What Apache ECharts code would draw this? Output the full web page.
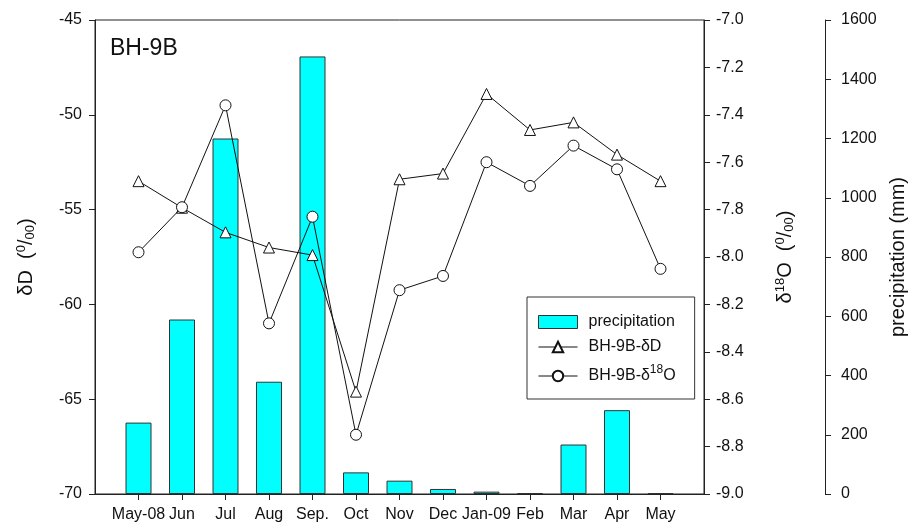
<!DOCTYPE html>
<html>
<head>
<meta charset="utf-8">
<script src="https://cdn.jsdelivr.net/npm/echarts@6/dist/echarts.min.js"></script>
<style>
html,body{margin:0;padding:0;background:#fff;}
#chart{width:917px;height:528px;}
</style>
</head>
<body>
<div id="chart"></div>
<script>
// ---- data ----
var months = ['May-08','Jun','Jul','Aug','Sep.','Oct','Nov','Dec','Jan-09','Feb','Mar','Apr','May'];
var precipitation = [241, 589, 1200, 379, 1477, 73, 45, 17, 8, 3, 167, 283, 3];
var deltaD = [-53.5, -54.9, -56.2, -57.0, -57.4, -64.6, -53.4, -53.1, -48.9, -50.8, -50.4, -52.1, -53.5];
var delta18O = [-7.98, -7.79, -7.36, -8.28, -7.83, -8.75, -8.14, -8.08, -7.60, -7.70, -7.53, -7.63, -8.05];
var dDTicks = {min: -70, max: -45, interval: 5};
var d18OTicks = {min: -9, max: -7, interval: 0.2};
var precipTicks = {min: 0, max: 1600, interval: 200};

// padded categories so points sit at 1..13 on a 0..14 span
var cats = [''].concat(months).concat(['']);
function pad(a){ return [null].concat(a).concat([null]); }

var FONT = "'Liberation Sans', Arial, sans-serif";
var AX = '#222';
var richName = {
  t: {fontSize: 20, fontFamily: FONT, color: '#111', lineHeight: 22, verticalAlign: 'middle'},
  sup: {fontSize: 13, fontFamily: FONT, color: '#111', lineHeight: 13, verticalAlign: 'top'},
  sub: {fontSize: 13, fontFamily: FONT, color: '#111', lineHeight: 13, verticalAlign: 'bottom'}
};
function axisCommon(){
  return {
    axisLine: {show: true, lineStyle: {color: AX, width: 1}},
    axisTick: {show: true, inside: false, length: 6, lineStyle: {color: AX, width: 1}},
    splitLine: {show: false},
    axisLabel: {color: '#111', fontSize: 16, fontFamily: FONT}
  };
}

var chart = echarts.init(document.getElementById('chart'), null, {renderer: 'canvas'});
var yLeft = axisCommon();
Object.assign(yLeft, {
  type: 'value', position: 'left', min: dDTicks.min, max: dDTicks.max, interval: dDTicks.interval,
  name: '{t|δD  (}{sup|0}{t|/}{sub|00}{t|)}', nameLocation: 'middle', nameGap: 58, nameRotate: 90,
  nameTextStyle: {rich: richName}
});
yLeft.axisLabel.margin = 13;

var yRight = axisCommon();
Object.assign(yRight, {
  type: 'value', position: 'right', min: d18OTicks.min, max: d18OTicks.max, interval: d18OTicks.interval,
  name: '{t|δ}{sup|18}{t|O  (}{sup|0}{t|/}{sub|00}{t|)}', nameLocation: 'middle', nameGap: 70, nameRotate: 90,
  nameTextStyle: {rich: richName}
});
yRight.axisLabel.margin = 12;
yRight.axisLabel.formatter = function(v){ return v.toFixed(1); };

var yPrecip = axisCommon();
Object.assign(yPrecip, {
  type: 'value', position: 'right', offset: 121, min: precipTicks.min, max: precipTicks.max, interval: precipTicks.interval,
  name: 'precipitation (mm)', nameLocation: 'middle', nameGap: 63, nameRotate: 90,
  nameTextStyle: {fontSize: 20, fontFamily: FONT, color: '#111'}
});
yPrecip.axisLabel.margin = 16;
yPrecip.axisLabel.formatter = function(v){ return String(v); };

var xAx = axisCommon();
Object.assign(xAx, {
  type: 'category', data: cats, boundaryGap: false
});
xAx.axisTick.interval = function(i, v){ return v !== ''; };
xAx.axisLabel.interval = 0;
xAx.axisLabel.margin = 13;

var option = {
  animation: false,
  backgroundColor: '#fff',
  textStyle: {fontFamily: FONT},
  grid: {left: 95, right: 213, top: 20, bottom: 34, show: true, borderColor: AX, borderWidth: 1, backgroundColor: 'transparent'},
  graphic: [{
    type: 'text', left: 110, top: 37,
    style: {text: 'BH-9B', fontSize: 23, fontFamily: FONT, fill: '#111'}
  }],
  legend: {
    show: true, orient: 'vertical', left: 527, top: 297,
    padding: [17, 19, 15, 11], itemGap: 9, itemWidth: 39, itemHeight: 13,
    borderColor: '#333', borderWidth: 1, backgroundColor: '#fff',
    lineStyle: {width: 1},
    data: [
      {name: 'precipitation', icon: 'rect', itemStyle: {borderWidth: 1, borderColor: '#333'}},
      {name: 'BH-9B-δD', lineStyle: {width: 1}},
      {name: 'BH-9B-δ18O', lineStyle: {width: 1}}
    ],
    formatter: function(n){
      if (n === 'BH-9B-δ18O') return '{t|BH-9B-δ}{sup|18}{t|O}';
      return '{t|' + n + '}';
    },
    textStyle: {
      fontFamily: FONT, fontSize: 16, color: '#111', padding: [0, 0, 0, 6],
      rich: {
        t: {fontSize: 16, fontFamily: FONT, color: '#111', lineHeight: 24, verticalAlign: 'middle'},
        sup: {fontSize: 12, fontFamily: FONT, color: '#111', lineHeight: 12, verticalAlign: 'top'}
      }
    }
  },
  xAxis: [xAx],
  yAxis: [yLeft, yRight, yPrecip],
  series: [
    {
      name: 'precipitation', type: 'bar', yAxisIndex: 2, data: pad(precipitation), barWidth: 26,
      itemStyle: {color: '#00FFFF', borderColor: '#333', borderWidth: 1}, z: 1
    },
    {
      name: 'BH-9B-δD', type: 'line', yAxisIndex: 0, data: pad(deltaD),
      symbol: 'triangle', symbolSize: 11, showAllSymbol: true, connectNulls: false,
      lineStyle: {color: '#111', width: 1},
      itemStyle: {color: '#fff', borderColor: '#111', borderWidth: 1}, z: 3
    },
    {
      name: 'BH-9B-δ18O', type: 'line', yAxisIndex: 1, data: pad(delta18O),
      symbol: 'circle', symbolSize: 11, showAllSymbol: true, connectNulls: false,
      lineStyle: {color: '#111', width: 1},
      itemStyle: {color: '#fff', borderColor: '#111', borderWidth: 1}, z: 4
    }
  ]
};
chart.setOption(option);
</script>
</body>
</html>
